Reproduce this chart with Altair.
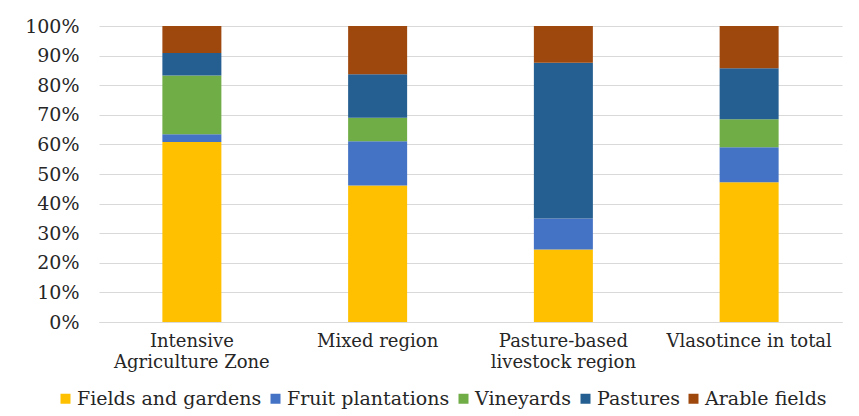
import altair as alt
import pandas as pd

categories = ["Intensive Agriculture Zone", "Mixed region", "Pasture-based livestock region", "Vlasotince in total"]
series = ["Fields and gardens", "Fruit plantations", "Vineyards", "Pastures", "Arable fields"]
colors = ["#FFC000", "#4472C4", "#70AD47", "#255E91", "#9E480E"]

fields_gardens = [60.8, 46.1, 24.5, 47.2]
fruit_plantations = [2.6, 15.0, 10.5, 11.8]
vineyards = [19.9, 7.9, 0.0, 9.5]
pastures = [7.6, 14.7, 52.6, 17.2]
arable_fields = [9.1, 16.3, 12.4, 14.3]

values = [fields_gardens, fruit_plantations, vineyards, pastures, arable_fields]
rows = []
for si, (s, vals) in enumerate(zip(series, values)):
    for c, v in zip(categories, vals):
        rows.append({"category": c, "series": s, "value": v, "idx": si})
df = pd.DataFrame(rows)

font = "DejaVu Serif"
label_expr = ("datum.label == 'Intensive Agriculture Zone' ? ['Intensive', 'Agriculture Zone'] : "
              "datum.label == 'Pasture-based livestock region' ? ['Pasture-based', 'livestock region'] : datum.label")

chart = alt.Chart(df).mark_bar(size=59).encode(
    x=alt.X("category:N", sort=categories, title=None,
            scale=alt.Scale(paddingInner=0, paddingOuter=0),
            axis=alt.Axis(labelAngle=0, labelExpr=label_expr, labelFont=font, labelFontSize=18,
                          labelColor="#262626", labelPadding=10, ticks=False, domainColor="#D9D9D9",
                          labelLineHeight=21)),
    y=alt.Y("value:Q", stack="normalize", title=None,
            scale=alt.Scale(domain=[0, 1]),
            axis=alt.Axis(format=".0%", values=[i / 10 for i in range(11)], labelFont=font,
                          labelFontSize=19, labelColor="#262626", labelPadding=20, ticks=False,
                          domain=False, gridColor="#D9D9D9")),
    color=alt.Color("series:N", scale=alt.Scale(domain=series, range=colors),
                    legend=alt.Legend(title=None, orient="none", legendX=-43, legendY=363,
                                      direction="horizontal", columns=5, symbolType="square",
                                      symbolSize=100, symbolStrokeWidth=0, labelFont=font,
                                      labelFontSize=19, labelColor="#262626", labelOffset=2,
                                      columnPadding=4, labelLimit=300)),
    order=alt.Order("idx:Q", sort="ascending"),
).properties(
    width=743, height=296,
    autosize=alt.AutoSizeParams(type="none"),
    padding={"left": 91, "top": 18, "right": 9, "bottom": 92},
).configure_view(stroke=None)

chart.save("out.html", embed_options={"renderer": "svg", "actions": False})
